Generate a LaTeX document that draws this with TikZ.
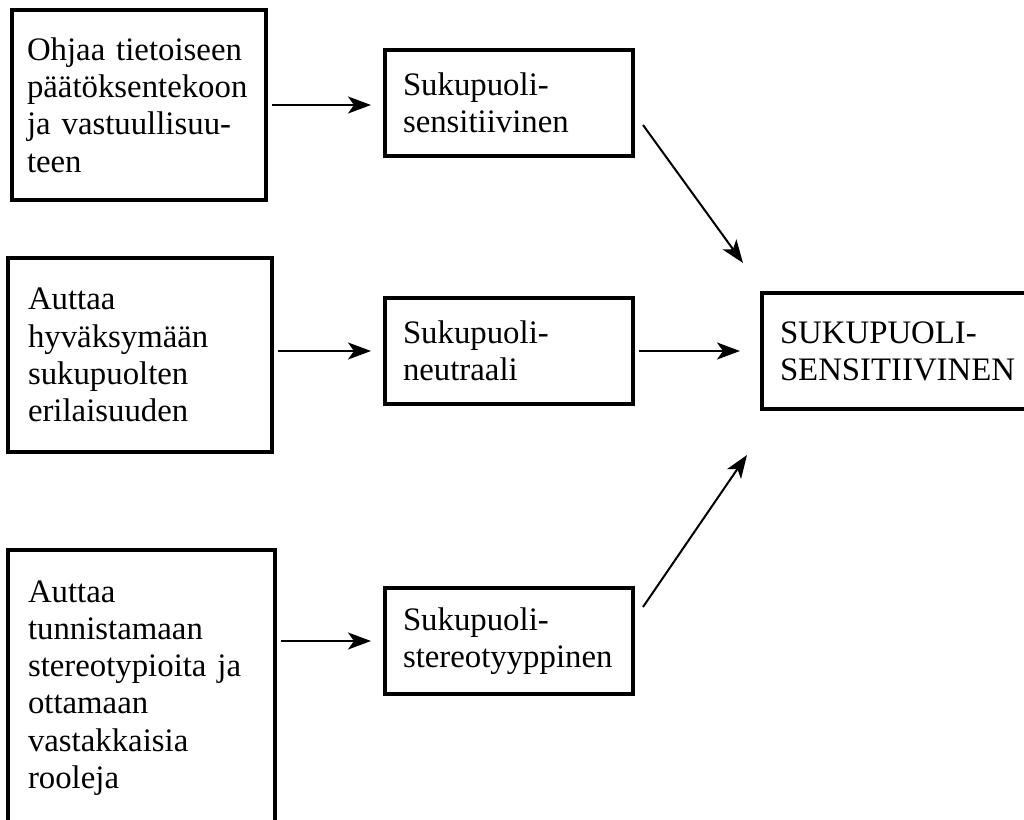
\documentclass[tikz,border=0pt]{standalone}
\usepackage{fontspec}
\setmainfont{Liberation Serif}
\usetikzlibrary{arrows.meta,calc}

\begin{document}
\begin{tikzpicture}[x=0.5pt,y=-0.5pt,
        box/.style={draw,line width=1.65pt,anchor=north west,outer sep=0pt,inner sep=0pt,align=left,font=\fontsize{16.4pt}{18.6pt}\selectfont},
        mid/.style={box,minimum width=124pt,minimum height=53pt,text width=106pt},
        arr/.style={-{Stealth[length=11.5pt,width=8.5pt,inset=3pt]},line width=1pt},
        gap/.style={shorten <=3pt,shorten >=7pt}
      ]
        \fill[white] (0,0) rectangle (1024,820);
        \useasboundingbox (0,0) rectangle (1024,820);
        % left column
        \node[box,minimum width=127pt,minimum height=95pt,text width=112pt] (b1) at (12,10) {Ohjaa tietoiseen\\päätöksentekoon\\ja vastuullisuu-\\teen};
        \node[box,minimum width=132pt,minimum height=97pt,text width=112pt] (b2) at (8,258) {Auttaa\\hyväksymään\\sukupuolten\\erilaisuuden};
        \node[box,minimum width=133.5pt,minimum height=138pt,text width=113.5pt] (b3) at (8,550) {Auttaa\\tunnistamaan\\stereotypioita ja\\ottamaan\\vastakkaisia\\rooleja};
        % middle column
        \node[mid] (sA) at (385,50) {Sukupuoli-\\sensitiivinen};
        \node[mid] (sB) at (385,298) {Sukupuoli-\\neutraali};
        \node[mid] (sC) at (385,588) {Sukupuoli-\\stereotyyppinen};
        % result
        \node[box,minimum width=139pt,minimum height=58pt,text width=121pt] (sK) at (762,293) {SUKUPUOLI-\\SENSITIIVINEN};
        \draw[arr,gap] (b1.east) -- (b1.east -| sA.west);
        \draw[arr,gap] (b2.east |- sB.west) -- (sB.west);
        \draw[arr,gap] (b3.east |- sC.west) -- (sC.west);
        \draw[arr,shorten <=3pt,shorten >=11pt] (sB.east) -- (sB.east -| sK.west);
        \draw[arr] ($(sA.east)+(10,22)$) -- ($(sK.north west)+(-19,-30)$);
        \draw[arr] ($(sC.east)+(10,-34)$) -- ($(sK.south west)+(-15,46)$);
      \end{tikzpicture}
\end{document}
